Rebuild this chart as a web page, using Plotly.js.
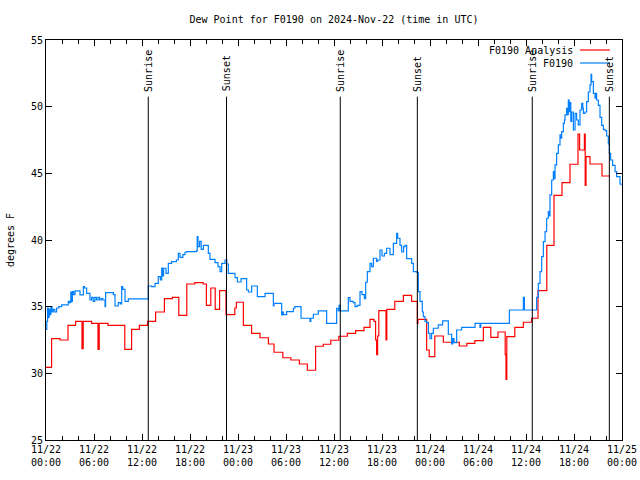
<!DOCTYPE html>
<html>
<head>
<meta charset="utf-8">
<script src="https://cdn.plot.ly/plotly-3.0.1.min.js"></script>
<style>html,body{margin:0;padding:0;background:#fff;}#chart{width:640px;height:480px;}</style>
</head>
<body>
<div id="chart"></div>
<script>
// Hours since 2024-11-22 00:00 UTC, and dew point (F)
const analysisHours = [0.0,0.7,1.75,2.75,3.7,4.5,4.65,5.7,6.5,6.65,7.75,9.85,10.7,11.67,12.7,13.7,14.8,15.8,16.6,17.6,18.6,19.65,20.05,20.6,21.15,21.7,22.5,23.6,23.8,24.67,25.7,26.75,27.8,28.5,29.6,30.6,31.67,32.67,33.7,34.67,35.6,36.6,37.67,38.7,39.75,40.5,41.0,41.2,41.33,41.45,41.6,42.5,42.6,43.6,44.67,45.7,46.42,46.5,47.58,47.9,48.6,49.67,51.67,52.6,53.6,54.67,55.6,56.5,57.4,57.5,57.6,58.6,59.67,60.7,61.5,62.6,63.5,64.5,65.5,66.5,66.7,67.3,67.4,67.5,68.0,69.5,70.5];
const analysisVals  = [30.45,32.6,32.5,33.6,33.9,31.85,33.9,33.75,31.8,33.75,33.6,31.8,33.3,33.6,33.9,34.6,35.6,35.7,34.35,36.7,36.8,36.7,35.1,36.4,34.8,36.2,34.4,34.9,35.33,33.6,33.0,32.67,32.2,31.58,31.17,31.0,30.7,30.23,32.03,32.18,32.48,32.78,33.0,33.2,33.45,34.05,33.9,32.5,31.4,32.8,34.7,32.5,34.8,35.4,35.85,35.4,33.75,34.05,31.75,31.25,32.8,32.33,32.05,32.25,32.45,33.45,32.7,33.1,31.4,29.55,32.75,33.45,33.83,34.13,36.2,39.6,43.35,44.3,45.68,47.95,46.75,47.95,44.1,46.25,45.7,44.8,44.8];

const obsHours = [0.0,0.1,0.2,0.3,0.4,0.5,0.6,0.75,0.9,1.1,1.33,1.6,1.96,2.4,2.79,2.95,3.1,3.2,3.3,3.45,3.63,4.25,4.67,4.8,5.08,5.5,5.7,5.9,6.1,6.3,6.5,6.7,6.9,7.1,7.38,7.45,8.0,8.42,8.63,9.04,9.3,9.46,9.6,9.88,10.29,10.5,12.79,13.2,13.63,14.04,14.3,14.46,14.55,14.7,15.0,15.29,15.71,16.3,16.54,16.75,17.1,17.38,17.58,18.83,18.9,19.0,19.2,19.4,19.67,20.29,20.5,21.13,21.5,21.75,21.96,22.38,22.6,22.79,23.63,23.92,24.38,25.08,25.3,25.71,26.42,27.38,28.42,28.5,29.46,29.6,29.67,30.08,30.92,31.1,31.88,33.0,33.1,33.42,34.04,35.08,36.33,36.54,36.63,36.8,37.79,38.0,38.4,38.63,38.9,39.25,39.5,39.8,39.96,40.17,40.5,40.7,40.92,41.33,41.45,41.75,42.0,42.3,42.58,43.0,43.42,43.83,43.96,44.25,44.46,44.7,44.88,45.08,45.71,45.92,46.33,46.54,46.75,47.04,47.17,47.38,47.58,47.8,48.0,48.2,48.42,49.04,49.58,50.29,50.71,50.85,51.0,51.33,51.96,53.63,54.25,54.35,57.92,59.67,59.8,61.33,61.54,61.75,61.96,62.17,62.38,62.58,62.79,62.9,63.0,63.21,63.42,63.5,63.63,63.83,64.04,64.25,64.35,64.46,64.67,64.8,64.88,65.08,65.2,65.29,65.4,65.5,65.6,65.71,65.92,66.13,66.33,66.54,66.75,66.96,67.1,67.17,67.38,67.58,67.79,68.0,68.13,68.21,68.42,68.63,68.75,68.83,69.04,69.25,69.46,69.67,69.88,70.08,70.29,70.42,70.58,70.83,71.13,71.33,71.75,71.9];
const obsVals  = [33.3,33.9,34.9,34.2,34.8,34.4,35.0,34.6,34.8,34.6,34.9,35.0,35.13,35.13,35.4,35.3,36.1,35.4,36.13,35.9,36.18,35.88,36.5,36.4,36.0,35.5,35.7,35.4,35.7,35.5,35.7,35.5,35.6,35.5,35.0,36.05,36.05,35.9,35.05,35.3,35.2,36.5,36.3,35.4,35.58,35.58,36.55,36.5,36.75,37.25,37.0,37.9,37.3,37.88,37.5,38.25,38.38,38.5,39.0,38.7,38.9,39.08,39.13,39.2,40.25,39.5,39.9,39.3,39.6,39.0,38.55,38.3,38.0,37.63,38.25,38.5,38.2,37.5,37.18,36.85,37.1,36.25,36.1,36.55,35.75,36.0,35.05,35.25,34.38,34.6,34.4,34.63,34.88,35.0,34.13,33.9,34.13,34.43,34.68,33.75,34.88,34.68,35.1,34.68,35.68,35.4,35.3,35.0,35.1,36.13,35.9,35.6,36.83,37.63,38.25,38.0,38.63,38.4,38.5,39.25,38.8,39.0,39.38,38.9,39.75,40.5,40.13,39.6,39.1,39.5,39.6,38.6,38.25,37.63,37.58,36.13,35.4,34.6,34.25,33.9,33.8,33.0,32.6,33.0,33.38,33.63,33.93,32.93,32.2,32.6,32.3,33.25,33.45,33.75,33.45,33.75,34.75,35.7,34.75,35.7,36.75,37.63,38.75,39.88,40.63,41.63,42.13,41.8,43.38,44.5,45.13,44.6,45.63,46.5,47.13,47.88,47.63,48.13,48.75,49.0,49.38,49.88,49.4,50.5,49.63,50.3,48.9,49.6,48.25,49.5,49.0,48.63,49.75,50.25,49.88,49.5,49.6,50.38,51.1,51.63,52.43,51.88,51.0,50.63,51.0,50.5,50.1,49.2,48.6,48.3,48.2,47.8,47.2,46.5,46.0,45.6,45.13,44.75,44.2,44.1];

const eventTimes  = ['2024-11-22 12:47','2024-11-22 22:34','2024-11-23 12:47','2024-11-23 22:25','2024-11-24 12:47','2024-11-24 22:25'];
const eventLabels = ['Sunrise','Sunset','Sunrise','Sunset','Sunrise','Sunset'];

const seriesNames = ['F0190 Analysis','F0190'];
const seriesColors = ['#ff0000','#0080ff'];

const startMs = Date.UTC(2024,10,22,0,0,0);
function pad(n){return (n<10?'0':'')+n;}
function hoursToDate(h){
  const d = new Date(startMs + Math.round(h*3600000));
  return d.getUTCFullYear()+'-'+pad(d.getUTCMonth()+1)+'-'+pad(d.getUTCDate())+' '+pad(d.getUTCHours())+':'+pad(d.getUTCMinutes())+':'+pad(d.getUTCSeconds());
}

const font = {family:'DejaVu Sans Mono, monospace', size:10, color:'#000'};

const traces = [
  {x: analysisHours.map(hoursToDate), y: analysisVals, type:'scatter', mode:'lines',
   line:{color:seriesColors[0], width:1.2, shape:'hv'}, name:seriesNames[0], showlegend:false},
  {x: obsHours.map(hoursToDate), y: obsVals, type:'scatter', mode:'lines',
   line:{color:seriesColors[1], width:1.2, shape:'hv'}, name:seriesNames[1], showlegend:false}
];

const shapes = [];
const annotations = [];
eventTimes.forEach((t,i)=>{
  shapes.push({type:'line', xref:'x', yref:'y', x0:t, x1:t, y0:25, y1:50.75, line:{color:'#000', width:1}});
  annotations.push({xref:'x', yref:'y', x:t, y:51.05, text:eventLabels[i], textangle:-90,
    showarrow:false, xanchor:'center', yanchor:'bottom', font:font, borderpad:0});
});
// custom legend (text, then a line sample to its right)
const legendY = [0.975, 0.9425];
seriesNames.forEach((n,i)=>{
  annotations.push({xref:'paper', yref:'paper', x:0.9167, y:legendY[i], text:n, showarrow:false,
    xanchor:'right', yanchor:'middle', font:font, borderpad:0});
  shapes.push({type:'line', xref:'paper', yref:'paper', x0:0.927, x1:0.979, y0:legendY[i], y1:legendY[i],
    line:{color:seriesColors[i], width:1.2}});
});

const layout = {
  width:640, height:480,
  margin:{l:46, r:18, t:40, b:40},
  paper_bgcolor:'#fff', plot_bgcolor:'#fff',
  font:font,
  showlegend:false,
  title:{text:'Dew Point for F0190 on 2024-Nov-22 (time in UTC)', font:font, x:0.5, xref:'paper', xanchor:'center', y:1-19/480, yanchor:'middle'},
  xaxis:{type:'date', range:['2024-11-22 00:00','2024-11-25 00:00'],
    dtick:6*3600000, tick0:'2024-11-22 00:00', tickformat:'%m/%d<br>%H:%M',
    ticks:'inside', ticklen:6, tickcolor:'#000', tickwidth:1,
    minor:{dtick:2*3600000, ticks:'inside', ticklen:4, tickcolor:'#000', tickwidth:1, showgrid:false},
    showline:true, linecolor:'#000', linewidth:1, mirror:'allticks',
    showgrid:false, zeroline:false, tickfont:font, fixedrange:true},
  yaxis:{range:[25,55], dtick:5, tick0:25, ticks:'inside', ticklen:6, tickcolor:'#000',
    showline:true, linecolor:'#000', linewidth:1, mirror:'allticks',
    showgrid:false, zeroline:false, tickfont:font,
    title:{text:'degrees F', font:font, standoff:14}},
  shapes:shapes,
  annotations:annotations
};

Plotly.newPlot('chart', traces, layout, {staticPlot:true, displayModeBar:false});
</script>
</body>
</html>
